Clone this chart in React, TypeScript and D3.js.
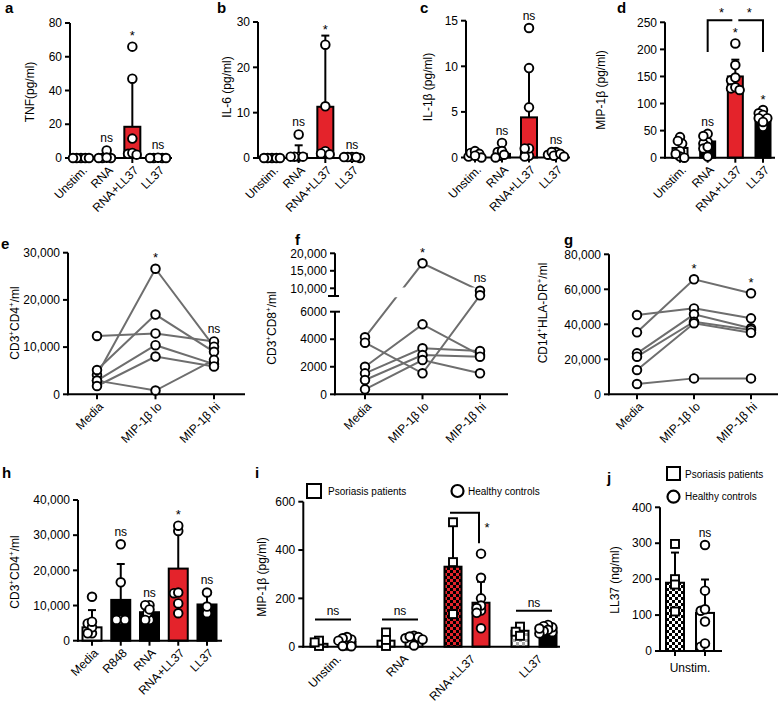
import React from "react";
import * as d3 from "d3";

const FONT = "'Liberation Sans', Arial, Helvetica, sans-serif";
const RED = "#e4232b";
const LINE_GREY = "#6e6e6e";
const R = 4.3;
const SW = 1.9;
const FS = 12;

// ---------- panel a (TNF) ----------
const cytoCats = ["Unstim.", "RNA", "RNA+LL37", "LL37"];
const aMean = [0.3, 0.9, 18.5, 0.2];
const aErrTop = [0.6, 2.5, 46, 0.4];
const aPoints = [[0, 0, 0, 0, 0], [0, 0, 4.5, 0, 0.3], [2.5, 66, 47, 11.5, 3, 2], [0, 0, 0.2, 0, 0]];
const aSig = ["", "ns", "*", "ns"];
const aTicks = [0, 20, 40, 60, 80];

// ---------- panel b (IL-6) ----------
const bMean = [0.2, 0.9, 11.3, 0.2];
const bErrTop = [0.4, 2.8, 27, 0.4];
const bPoints = [[0, 0, 0, 0, 0], [0.3, 0.3, 5.2, 0.3, 0.3], [1.5, 1.0, 25, 11.4, 0.8], [0.2, 0.2, 0, 0.2, 0.2]];
const bSig = ["", "ns", "*", "ns"];
const bTicks = [0, 10, 20, 30];

// ---------- panel c (IL-1b) ----------
const cMean = [0.2, 0.4, 4.4, 0.3];
const cErrTop = [0.5, 1.0, 9.9, 0.6];
const cPoints = [[0.1, 0.5, 0.7, 0.4, 0, 0.2], [0.2, 0.6, 1.6, 0.7, 0, 0.3], [0.2, 1.0, 14.2, 9.8, 5.5, 0.1, 1.0], [0.3, 0.6, 0.6, 0.2, 0.4, 0.1]];
const cSig = ["", "ns", "ns", "ns"];
const cTicks = [0, 5, 10, 15];

// ---------- panel d (MIP-1b) ----------
const dMean = [18, 30, 150, 73];
const dErrTop = [30, 44, 181, 84];
const dPoints = [[38, 26, 31, 12, 2, 0, 7], [29, 44, 26, 17, 2, 20, 40], [143, 211, 171, 148, 128, 130, 125], [88, 82, 79, 73, 73, 57, 66]];
const dSig = ["", "ns", "*", "*"];
const dTicks = [0, 50, 100, 150, 200, 250];
const dBracketLevel = 254;
const dBracketLeg = 195;

// ---------- panels e, f, g ----------
const flowCats = ["Media", "MIP-1\u03B2 lo", "MIP-1\u03B2 hi"];
const eSeries = [
  [12350, 12900, 11200],
  [4100, 26600, 10100],
  [5150, 16900, 9000],
  [2900, 10400, 6400],
  [2900, 800, 7300],
  [1760, 8000, 5900],
];
const eSig = ["", "*", "ns"];
const eTicks = [0, 10000, 20000, 30000];

const fSeries = [
  [4140, 17140, 9300],
  [3750, 1525, 8000],
  [2000, 5080, 2850],
  [1520, 3340, 3140],
  [1040, 2850, 2730],
  [360, 2490, 1525],
];
const fSig = ["", "*", "ns"];
const fLowTicks = [0, 2000, 4000, 6000];
const fHighTicks = [10000, 15000, 20000];

const gSeries = [
  [45300, 49100, 43400],
  [35400, 65700, 57700],
  [23400, 45700, 37700],
  [21500, 41500, 36800],
  [13900, 40600, 35200],
  [5900, 9100, 9100],
];
const gSig = ["", "*", "*"];
const gTicks = [0, 20000, 40000, 60000, 80000];

// ---------- panel h ----------
const hCats = ["Media", "R848", "RNA", "RNA+LL37", "LL37"];
const hMean = [3800, 11600, 8100, 20500, 10300];
const hErrTop = [8700, 21800, 10100, 31700, 14000];
const hPoints = [
  [2100, 12500, 4900, 3800, 5400, 2100],
  [5900, 27400, 16600, 5900, 5900],
  [10100, 5900, 10100, 7800, 8900, 5900],
  [31200, 13500, 10600, 7800, 32700, 13700],
  [7800, 13700, 9700],
];
const hSig = ["", "ns", "ns", "*", "ns"];
const hTicks = [0, 10000, 20000, 30000, 40000];

// ---------- panel i ----------
const iCats = ["Unstim.", "RNA", "RNA+LL37", "LL37"];
const iPsoMean = [12, 25, 331, 66];
const iPsoErrTop = [12, 25, 510, 66];
const iPsoPoints = [[3, 25, 18], [3, 59, 28], [135, 350, 515], [66, 83, 62, 45]];
const iHcMean = [20, 28, 182, 76];
const iHcErrTop = [20, 28, 269, 76];
const iHcPoints = [
  [5, 30, 40, 35, 25, 3, 2],
  [5, 35, 45, 40, 30, 42],
  [150, 200, 385, 285, 170, 160, 140, 76],
  [60, 80, 90, 85, 70, 65, 55, 75],
];
const iNsLevel = [113, 113, 0, 149];
const iSig = ["ns", "ns", "*", "ns"];
const iBracketLevel = 554;
const iBracketLeg = 428;
const iTicks = [0, 200, 400, 600];

// ---------- panel j ----------
const jGroups = ["Psoriasis patients", "Healthy controls"];
const jMean = [190, 106];
const jErrTop = [274, 199];
const jPoints = [[200, 298, 110, 185], [112, 12, 295, 168, 82, 116, 21]];
const jSig = ["", "ns"];
const jTicks = [0, 100, 200, 300, 400];

type Scale = (v: number) => number;

function swarm(vals: number[], ys: Scale, maxOff: number): number[] {
  const order = vals.map((_, i) => i).sort((a, b) => vals[b] - vals[a]);
  const offs = new Array(vals.length).fill(0);
  const placed: [number, number][] = [];
  const step = R * 0.5;
  for (const i of order) {
    const py = ys(vals[i]);
    let chosen = 0;
    for (let k = 0; k < 30; k++) {
      const c = k === 0 ? 0 : (k % 2 ? -1 : 1) * Math.ceil(k / 2) * step;
      chosen = c;
      if (placed.every(([px, qy]) => Math.hypot(px - c, qy - py) >= R * 0.95)) break;
    }
    chosen = Math.max(-maxOff, Math.min(maxOff, chosen));
    offs[i] = chosen;
    placed.push([chosen, py]);
  }
  return offs;
}

function Sig({ x, top, t }: { x: number; top: number; t: string }) {
  if (!t) return null;
  const star = t === "*";
  return (
    <text x={x} y={star ? top - 2 : top - 4} textAnchor="middle" fontSize={star ? 13 : FS}>
      {t}
    </text>
  );
}

function YTicks({ x, ys, ticks, fmt }: { x: number; ys: Scale; ticks: number[]; fmt: (n: number) => string }) {
  return (
    <g>
      {ticks.map((t) => (
        <g key={t}>
          <line x1={x - 5} x2={x} y1={ys(t)} y2={ys(t)} stroke="black" strokeWidth={2} />
          <text x={x - 8} y={ys(t)} dy="0.35em" textAnchor="end" fontSize={FS}>
            {fmt(t)}
          </text>
        </g>
      ))}
    </g>
  );
}

function XRotLabel({ x, y, t }: { x: number; y: number; t: string }) {
  return (
    <text transform={`translate(${x + 4},${y + 10}) rotate(-45)`} dy="0.35em" textAnchor="end" fontSize={FS}>
      {t}
    </text>
  );
}

function YLabel({ x, y, children }: { x: number; y: number; children: React.ReactNode }) {
  return (
    <text transform={`translate(${x},${y}) rotate(-90)`} textAnchor="middle" dominantBaseline="central" fontSize={FS}>
      {children}
    </text>
  );
}

function Letter({ x, y, t }: { x: number; y: number; t: string }) {
  return (
    <text x={x} y={y} fontSize={15} fontWeight="bold">
      {t}
    </text>
  );
}

// label parts alternate: normal, superscript, normal, superscript, ...
function supLabel(parts: string[]) {
  return (
    <>
      {parts.map((p, i) =>
        i % 2 === 1 ? (
          <tspan key={i} dy={-4} fontSize={8}>
            {p}
          </tspan>
        ) : (
          <tspan key={i} dy={i === 0 ? 0 : 4}>
            {p}
          </tspan>
        )
      )}
    </>
  );
}

const fmtPlain = (n: number) => String(n);
const fmtComma = d3.format(",");

type BarProps = {
  letter: string; lx: number; ly: number;
  ylabel: React.ReactNode; ylx: number; yly: number;
  axisX: number; axisEnd: number; y0: number; yTop: number; max: number; ticks: number[]; fmt: (n: number) => string;
  cats: string[]; catLo: number; catHi: number; bw: number;
  means: number[]; errTop: number[]; points: number[][]; fills: string[]; sig: string[];
};

function BarPanel(p: BarProps) {
  const ys = d3.scaleLinear().domain([0, p.max]).range([p.y0, p.yTop]);
  const xs = d3.scalePoint<string>().domain(p.cats).range([p.catLo, p.catHi]);
  return (
    <g>
      <Letter x={p.lx} y={p.ly} t={p.letter} />
      <YLabel x={p.ylx} y={p.yly}>{p.ylabel}</YLabel>
      {p.cats.map((c, i) => {
        const cx = xs(c)!;
        const top = ys(p.means[i]);
        const et = ys(p.errTop[i]);
        return (
          <g key={c}>
            {p.errTop[i] > p.means[i] && (
              <g stroke="black" strokeWidth={2}>
                <line x1={cx} x2={cx} y1={top} y2={et} />
                <line x1={cx - 4} x2={cx + 4} y1={et} y2={et} />
              </g>
            )}
            <rect x={cx - p.bw / 2} y={top} width={p.bw} height={p.y0 - top} fill={p.fills[i]} stroke="black" strokeWidth={2} />
          </g>
        );
      })}
      <line x1={p.axisX} x2={p.axisX} y1={p.yTop} y2={p.y0 + 1} stroke="black" strokeWidth={2} />
      <line x1={p.axisX - 1} x2={p.axisEnd} y1={p.y0} y2={p.y0} stroke="black" strokeWidth={2} />
      <YTicks x={p.axisX} ys={ys} ticks={p.ticks} fmt={p.fmt} />
      {p.cats.map((c) => (
        <g key={c}>
          <line x1={xs(c)!} x2={xs(c)!} y1={p.y0} y2={p.y0 + 5} stroke="black" strokeWidth={2} />
          <XRotLabel x={xs(c)!} y={p.y0} t={c} />
        </g>
      ))}
      {p.cats.map((c, i) => {
        const cx = xs(c)!;
        const offs = swarm(p.points[i], ys, p.bw / 2);
        const top = Math.min(ys(d3.max(p.points[i])!) - R, ys(p.errTop[i]));
        return (
          <g key={c}>
            {p.points[i].map((v, j) => (
              <circle key={j} cx={cx + offs[j]} cy={ys(v)} r={R} fill="white" stroke="black" strokeWidth={SW} />
            ))}
            <Sig x={cx} top={top} t={p.sig[i]} />
          </g>
        );
      })}
    </g>
  );
}

type LineProps = {
  letter: string; lx: number; ly: number;
  ylabel: React.ReactNode; ylx: number; yly: number;
  axisX: number; axisEnd: number; y0: number; yTop: number; max: number; ticks: number[];
  catLo: number; catHi: number; series: number[][]; sig: string[];
};

function LinePanel(p: LineProps) {
  const ys = d3.scaleLinear().domain([0, p.max]).range([p.y0, p.yTop]);
  const xs = d3.scalePoint<string>().domain(flowCats).range([p.catLo, p.catHi]);
  const line = d3.line<number>().x((_, i) => xs(flowCats[i])!).y((v) => ys(v));
  return (
    <g>
      <Letter x={p.lx} y={p.ly} t={p.letter} />
      <YLabel x={p.ylx} y={p.yly}>{p.ylabel}</YLabel>
      <line x1={p.axisX} x2={p.axisX} y1={p.yTop} y2={p.y0 + 1} stroke="black" strokeWidth={2} />
      <line x1={p.axisX - 1} x2={p.axisEnd} y1={p.y0} y2={p.y0} stroke="black" strokeWidth={2} />
      <YTicks x={p.axisX} ys={ys} ticks={p.ticks} fmt={fmtComma} />
      {flowCats.map((c) => (
        <g key={c}>
          <line x1={xs(c)!} x2={xs(c)!} y1={p.y0} y2={p.y0 + 5} stroke="black" strokeWidth={2} />
          <XRotLabel x={xs(c)!} y={p.y0} t={c} />
        </g>
      ))}
      {p.series.map((s, k) => (
        <path key={k} d={line(s)!} fill="none" stroke={LINE_GREY} strokeWidth={2} />
      ))}
      {p.series.map((s, k) =>
        s.map((v, i) => <circle key={`${k}-${i}`} cx={xs(flowCats[i])!} cy={ys(v)} r={R} fill="white" stroke="black" strokeWidth={SW} />)
      )}
      {flowCats.map((c, i) => (
        <Sig key={c} x={xs(c)!} top={ys(d3.max(p.series, (s) => s[i])!) - R} t={p.sig[i]} />
      ))}
    </g>
  );
}

function PanelF() {
  const axisX = 335;
  const y0 = 394.3;
  const yLow = d3.scaleLinear().domain([0, 6000]).range([y0, 311.7]);
  const yHigh = d3.scaleLinear().domain([10000, 20000]).range([288.3, 253.3]);
  const ys = (v: number) => (v > 7000 ? yHigh(v) : yLow(v));
  const xs = d3.scalePoint<string>().domain(flowCats).range([365, 480]);
  const line = d3.line<number>().x((_, i) => xs(flowCats[i])!).y((v) => ys(v));
  return (
    <g>
      <defs>
        <clipPath id="fLow"><rect x={330} y={297.3} width={200} height={110} /></clipPath>
        <clipPath id="fHigh"><rect x={330} y={230} width={200} height={57.5} /></clipPath>
      </defs>
      <Letter x={295} y={245} t="f" />
      <YLabel x={272} y={328}>{supLabel(["CD3", "+", "CD8", "+", "/ml"])}</YLabel>
      <line x1={axisX} x2={axisX} y1={yHigh(20000)} y2={296} stroke="black" strokeWidth={2} />
      <line x1={axisX - 7} x2={axisX + 4} y1={296} y2={296} stroke="black" strokeWidth={2} />
      <line x1={axisX} x2={axisX} y1={yLow(6000)} y2={y0 + 1} stroke="black" strokeWidth={2} />
      <line x1={axisX} x2={axisX + 5} y1={yLow(6000)} y2={yLow(6000)} stroke="black" strokeWidth={2} />
      <line x1={axisX - 1} x2={508} y1={y0} y2={y0} stroke="black" strokeWidth={2} />
      <YTicks x={axisX} ys={yLow} ticks={fLowTicks} fmt={fmtPlain} />
      <YTicks x={axisX} ys={yHigh} ticks={fHighTicks} fmt={fmtComma} />
      {flowCats.map((c) => (
        <g key={c}>
          <line x1={xs(c)!} x2={xs(c)!} y1={y0} y2={y0 + 5} stroke="black" strokeWidth={2} />
          <XRotLabel x={xs(c)!} y={y0} t={c} />
        </g>
      ))}
      {fSeries.map((s, k) => (
        <g key={k}>
          <path d={line(s)!} fill="none" stroke={LINE_GREY} strokeWidth={2} clipPath="url(#fLow)" />
          <path d={line(s)!} fill="none" stroke={LINE_GREY} strokeWidth={2} clipPath="url(#fHigh)" />
        </g>
      ))}
      {fSeries.map((s, k) =>
        s.map((v, i) => <circle key={`${k}-${i}`} cx={xs(flowCats[i])!} cy={ys(v)} r={R} fill="white" stroke="black" strokeWidth={SW} />)
      )}
      {flowCats.map((c, i) => (
        <Sig key={c} x={xs(c)!} top={ys(d3.max(fSeries, (s) => s[i])!) - R} t={fSig[i]} />
      ))}
    </g>
  );
}

function Square({ x, y, s }: { x: number; y: number; s: number }) {
  return <rect x={x - s / 2} y={y - s / 2} width={s} height={s} fill="white" stroke="black" strokeWidth={SW} />;
}

function PanelI() {
  const axisX = 303.3;
  const y0 = 646.7;
  const ys = d3.scaleLinear().domain([0, 600]).range([y0, 501.7]);
  const xs = d3.scalePoint<string>().domain(iCats).range([333, 534]);
  const off = 14;
  const bw = 17;
  const psoFill = ["white", "white", "url(#chkRed)", "url(#chkGrey)"];
  const hcFill = ["white", "white", RED, "black"];
  return (
    <g>
      <Letter x={255} y={478} t="i" />
      <YLabel x={262} y={577}>MIP-1{"\u03B2"} (pg/ml)</YLabel>
      <rect x={307} y={484} width={14} height={14} fill="white" stroke="black" strokeWidth={2} />
      <text x={328} y={491} dy="0.35em" fontSize={10}>Psoriasis patients</text>
      <circle cx={457.5} cy={491} r={6} fill="white" stroke="black" strokeWidth={2.2} />
      <text x={468} y={491} dy="0.35em" fontSize={10}>Healthy controls</text>
      {iCats.map((c, i) => {
        const gc = xs(c)!;
        const px = gc - off;
        const hx = gc + off;
        const pt = ys(iPsoMean[i]);
        const ht = ys(iHcMean[i]);
        return (
          <g key={c}>
            {iPsoErrTop[i] > iPsoMean[i] && (
              <g stroke="black" strokeWidth={2}>
                <line x1={px} x2={px} y1={pt} y2={ys(iPsoErrTop[i])} />
                <line x1={px - 4} x2={px + 4} y1={ys(iPsoErrTop[i])} y2={ys(iPsoErrTop[i])} />
              </g>
            )}
            {iHcErrTop[i] > iHcMean[i] && (
              <g stroke="black" strokeWidth={2}>
                <line x1={hx} x2={hx} y1={ht} y2={ys(iHcErrTop[i])} />
                <line x1={hx - 4} x2={hx + 4} y1={ys(iHcErrTop[i])} y2={ys(iHcErrTop[i])} />
              </g>
            )}
            <rect x={px - bw / 2} y={pt} width={bw} height={y0 - pt} fill={psoFill[i]} stroke="black" strokeWidth={2} />
            <rect x={hx - bw / 2} y={ht} width={bw} height={y0 - ht} fill={hcFill[i]} stroke="black" strokeWidth={2} />
          </g>
        );
      })}
      <line x1={axisX} x2={axisX} y1={ys(600)} y2={y0 + 1} stroke="black" strokeWidth={2} />
      <line x1={axisX - 1} x2={560} y1={y0} y2={y0} stroke="black" strokeWidth={2} />
      <YTicks x={axisX} ys={ys} ticks={iTicks} fmt={fmtPlain} />
      {iCats.map((c) => (
        <XRotLabel key={c} x={xs(c)! + 2} y={y0} t={c} />
      ))}
      {iCats.map((c, i) => {
        const gc = xs(c)!;
        const px = gc - off;
        const hx = gc + off;
        const po = swarm(iPsoPoints[i], ys, 9);
        const ho = swarm(iHcPoints[i], ys, 10);
        return (
          <g key={c}>
            {iPsoPoints[i].map((v, j) => (
              <Square key={j} x={px + po[j]} y={ys(v)} s={8} />
            ))}
            {iHcPoints[i].map((v, j) => (
              <circle key={j} cx={hx + ho[j]} cy={ys(v)} r={R} fill="white" stroke="black" strokeWidth={SW} />
            ))}
            {iSig[i] === "ns" && (
              <g>
                <line x1={gc - 18} x2={gc + 18} y1={ys(iNsLevel[i])} y2={ys(iNsLevel[i])} stroke="black" strokeWidth={2} />
                <text x={gc} y={ys(iNsLevel[i]) - 4} textAnchor="middle" fontSize={FS}>ns</text>
              </g>
            )}
            {iSig[i] === "*" && (
              <g>
                <path
                  d={`M${px - 3},${ys(iBracketLevel)}H${hx - 2}V${ys(iBracketLeg)}`}
                  fill="none"
                  stroke="black"
                  strokeWidth={2}
                />
                <text x={hx + 6} y={ys(iBracketLevel) + 19} textAnchor="middle" fontSize={13}>*</text>
              </g>
            )}
          </g>
        );
      })}
    </g>
  );
}

function PanelJ() {
  const axisX = 660;
  const y0 = 651;
  const ys = d3.scaleLinear().domain([0, 400]).range([y0, 507.3]);
  const xs = d3.scalePoint<string>().domain(jGroups).range([675, 705]);
  const bw = 18;
  const fills = ["url(#chkBW)", "white"];
  return (
    <g>
      <Letter x={607} y={483} t="j" />
      <YLabel x={615} y={580}>LL37 (ng/ml)</YLabel>
      <rect x={667} y={467} width={13} height={13} fill="white" stroke="black" strokeWidth={2} />
      <text x={685} y={474} dy="0.35em" fontSize={10}>Psoriasis patients</text>
      <circle cx={673.5} cy={496.7} r={6} fill="white" stroke="black" strokeWidth={2.2} />
      <text x={685} y={496.7} dy="0.35em" fontSize={10}>Healthy controls</text>
      {jGroups.map((g, i) => {
        const cx = xs(g)!;
        const top = ys(jMean[i]);
        const et = ys(jErrTop[i]);
        return (
          <g key={g}>
            <g stroke="black" strokeWidth={2}>
              <line x1={cx} x2={cx} y1={top} y2={et} />
              <line x1={cx - 4} x2={cx + 4} y1={et} y2={et} />
            </g>
            <rect x={cx - bw / 2} y={top} width={bw} height={y0 - top} fill={fills[i]} stroke="black" strokeWidth={2} />
          </g>
        );
      })}
      <line x1={axisX} x2={axisX} y1={ys(400)} y2={y0 + 1} stroke="black" strokeWidth={2} />
      <line x1={axisX - 1} x2={722} y1={y0} y2={y0} stroke="black" strokeWidth={2} />
      <YTicks x={axisX} ys={ys} ticks={jTicks} fmt={fmtPlain} />
      {jGroups.map((g) => (
        <line key={g} x1={xs(g)!} x2={xs(g)!} y1={y0} y2={y0 + 5} stroke="black" strokeWidth={2} />
      ))}
      <text x={690} y={668} dy="0.35em" textAnchor="middle" fontSize={FS}>Unstim.</text>
      {jGroups.map((g, i) => {
        const cx = xs(g)!;
        const offs = swarm(jPoints[i], ys, 9);
        const top = Math.min(ys(d3.max(jPoints[i])!) - R, ys(jErrTop[i]));
        return (
          <g key={g}>
            {jPoints[i].map((v, j) =>
              i === 0 ? (
                <Square key={j} x={cx + offs[j]} y={ys(v)} s={8} />
              ) : (
                <circle key={j} cx={cx + offs[j]} cy={ys(v)} r={R} fill="white" stroke="black" strokeWidth={SW} />
              )
            )}
            <Sig x={cx} top={top} t={jSig[i]} />
          </g>
        );
      })}
    </g>
  );
}

function PanelDExtras() {
  const ys = d3.scaleLinear().domain([0, 250]).range([157.7, 22.3]);
  const xs = d3.scalePoint<string>().domain(cytoCats).range([680, 763]);
  const xa = xs("RNA")!;
  const xb = xs("RNA+LL37")!;
  const xc = xs("LL37")!;
  const yl = ys(dBracketLevel);
  const yg = ys(dBracketLeg);
  return (
    <g>
      <path d={`M${xa},${yg}V${yl}H${xb - 3}`} fill="none" stroke="black" strokeWidth={2} />
      <path d={`M${xb + 3},${yl}H${xc}V${yg}`} fill="none" stroke="black" strokeWidth={2} />
      <text x={(xa + xb) / 2} y={yl - 3} textAnchor="middle" fontSize={13}>*</text>
      <text x={(xb + xc) / 2} y={yl - 3} textAnchor="middle" fontSize={13}>*</text>
    </g>
  );
}

export default function App() {
  const cytoFills = ["white", "black", RED, "black"];
  return (
    <div style={{ position: "absolute", left: 0, top: 0 }}>
      <svg width={781} height={703} fontFamily={FONT} style={{ display: "block", background: "white" }}>
        <defs>
          <pattern id="chkRed" width={6} height={6} patternUnits="userSpaceOnUse">
            <rect width={6} height={6} fill={RED} />
            <rect width={3} height={3} fill="black" />
            <rect x={3} y={3} width={3} height={3} fill="black" />
          </pattern>
          <pattern id="chkGrey" width={6} height={6} patternUnits="userSpaceOnUse">
            <rect width={6} height={6} fill="white" />
            <rect width={3} height={3} fill="#a8a8a8" />
            <rect x={3} y={3} width={3} height={3} fill="#a8a8a8" />
          </pattern>
          <pattern id="chkBW" width={6} height={6} patternUnits="userSpaceOnUse">
            <rect width={6} height={6} fill="white" />
            <rect width={3} height={3} fill="black" />
            <rect x={3} y={3} width={3} height={3} fill="black" />
          </pattern>
        </defs>

        <BarPanel
          letter="a" lx={5} ly={13} ylabel="TNF(pg/ml)" ylx={30} yly={92}
          axisX={70} axisEnd={172} y0={158} yTop={23} max={80} ticks={aTicks} fmt={fmtPlain}
          cats={cytoCats} catLo={81} catHi={158} bw={16}
          means={aMean} errTop={aErrTop} points={aPoints} fills={cytoFills} sig={aSig}
        />
        <BarPanel
          letter="b" lx={217} ly={13} ylabel="IL-6 (pg/ml)" ylx={227} yly={87}
          axisX={258} axisEnd={365} y0={158} yTop={22} max={30} ticks={bTicks} fmt={fmtPlain}
          cats={cytoCats} catLo={272} catHi={352} bw={16}
          means={bMean} errTop={bErrTop} points={bPoints} fills={cytoFills} sig={bSig}
        />
        <BarPanel
          letter="c" lx={420} ly={13} ylabel={"IL-1\u03B2 (pg/ml)"} ylx={428} yly={87}
          axisX={466} axisEnd={570} y0={157.5} yTop={20.7} max={15} ticks={cTicks} fmt={fmtPlain}
          cats={cytoCats} catLo={475} catHi={556} bw={16}
          means={cMean} errTop={cErrTop} points={cPoints} fills={cytoFills} sig={cSig}
        />
        <BarPanel
          letter="d" lx={617} ly={13} ylabel={"MIP-1\u03B2 (pg/ml)"} ylx={601} yly={90}
          axisX={665} axisEnd={775} y0={157.7} yTop={22.3} max={250} ticks={dTicks} fmt={fmtPlain}
          cats={cytoCats} catLo={680} catHi={763} bw={15}
          means={dMean} errTop={dErrTop} points={dPoints} fills={cytoFills} sig={dSig}
        />
        <PanelDExtras />

        <LinePanel
          letter="e" lx={1} ly={249}
          ylabel={supLabel(["CD3", "+", "CD4", "+", "/ml"])} ylx={15} yly={323}
          axisX={68} axisEnd={245} y0={394.3} yTop={252.7} max={30000} ticks={eTicks}
          catLo={97} catHi={214} series={eSeries} sig={eSig}
        />
        <PanelF />
        <LinePanel
          letter="g" lx={564} ly={245}
          ylabel={supLabel(["CD14", "+", "HLA-DR", "+", "/ml"])} ylx={543} yly={313}
          axisX={609} axisEnd={778} y0={394.3} yTop={254.3} max={80000} ticks={gTicks}
          catLo={637} catHi={751} series={gSeries} sig={gSig}
        />

        <BarPanel
          letter="h" lx={2} ly={478}
          ylabel={supLabel(["CD3", "+", "CD4", "+", "/ml"])} ylx={15} yly={572}
          axisX={78} axisEnd={222} y0={640.7} yTop={500} max={40000} ticks={hTicks} fmt={fmtComma}
          cats={hCats} catLo={92} catHi={207} bw={19}
          means={hMean} errTop={hErrTop} points={hPoints} fills={["white", "black", "black", RED, "black"]} sig={hSig}
        />
        <PanelI />
        <PanelJ />
      </svg>
    </div>
  );
}
